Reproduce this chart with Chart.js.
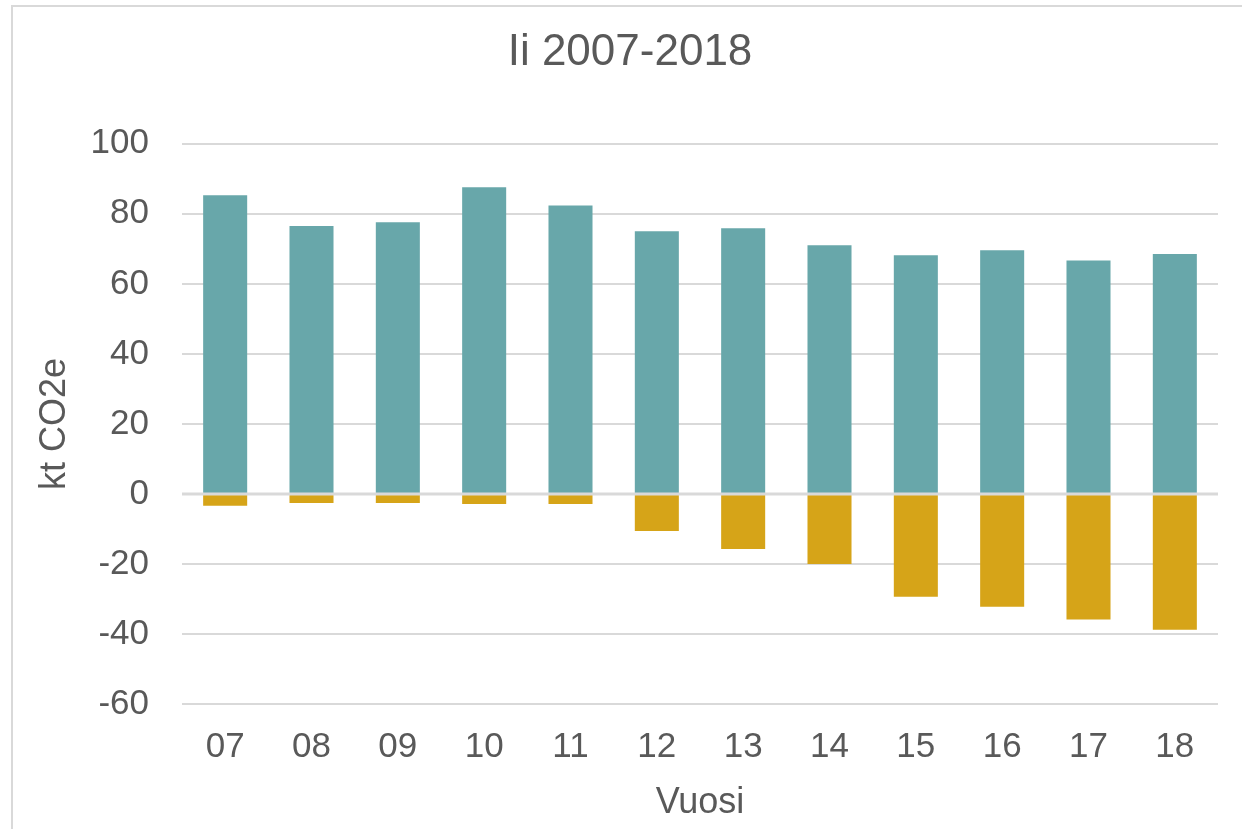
<!DOCTYPE html>
<html lang="fi">
<head>
  <meta charset="UTF-8">
  <title>Ii 2007-2018</title>
  <script src="https://cdn.jsdelivr.net/npm/chart.js"></script>
  <style>
    html, body {
      margin: 0;
      padding: 0;
      background: #fff;
      overflow: hidden;
    }

    .frame {
      position: absolute;
      left: 11px;
      top: 5px;
      width: 1300px;
      height: 900px;
      border-left: 2px solid #d9d9d9;
      border-top: 2px solid #d9d9d9;
    }

    .chart-box {
      position: absolute;
      left: 0;
      top: 0;
      width: 1242px;
      height: 829px;
    }
  </style>
</head>
<body>
<div class="frame"></div>
<div class="chart-box">
  <canvas id="emissionChart"></canvas>
</div>

<script>
  // Years (x axis labels)
  var years = ['07', '08', '09', '10', '11', '12', '13', '14', '15', '16', '17', '18'];

  // Emissions, kt CO2e (positive part)
  var emissions = [85.3, 76.5, 77.6, 87.6, 82.4, 75.0, 75.9, 71.0, 68.2, 69.6, 66.7, 68.5];

  // Sinks / negative part, kt CO2e
  var sinks = [-3.4, -2.6, -2.6, -2.9, -2.9, -10.6, -15.7, -20.0, -29.4, -32.2, -35.9, -38.8];

  // y axis range
  var yMin = -60;
  var yMax = 100;
  var yStep = 20;

  var textColor = '#595959';
  var gridColor = '#d9d9d9';
  var fontFamily = 'Liberation Sans, Arial, sans-serif';

  // draws the 0-line on top of the bars, like Excel does
  var zeroLinePlugin = {
    id: 'zeroLine',
    afterDatasetsDraw: function (chart) {
      var ctx = chart.ctx;
      var area = chart.chartArea;
      var y = chart.scales.y.getPixelForValue(0);
      ctx.save();
      ctx.strokeStyle = gridColor;
      ctx.lineWidth = 3;
      ctx.beginPath();
      ctx.moveTo(area.left, y);
      ctx.lineTo(area.right, y);
      ctx.stroke();
      ctx.restore();
    }
  };

  var ctx = document.getElementById('emissionChart').getContext('2d');
  var emissionChart = new Chart(ctx, {
    type: 'bar',
    data: {
      labels: years,
      datasets: [{
        label: 'Päästöt',
        data: emissions,
        backgroundColor: '#68a7aa',
        barPercentage: 0.51,
        categoryPercentage: 1.0
      }, {
        label: 'Nielut',
        data: sinks,
        backgroundColor: '#d6a418',
        barPercentage: 0.51,
        categoryPercentage: 1.0
      }]
    },
    options: {
      responsive: true,
      maintainAspectRatio: false,
      animation: false,
      layout: {
        // left padding shifts the title centre to match the original
        padding: { left: 42, right: 24, top: 0, bottom: 0 }
      },
      plugins: {
        legend: { display: false },
        tooltip: { enabled: false },
        title: {
          display: true,
          text: 'Ii 2007-2018',
          color: textColor,
          font: { family: fontFamily, size: 44, weight: 'normal' },
          padding: { top: 26, bottom: 65 }
        }
      },
      scales: {
        x: {
          stacked: true,
          grid: { display: false, drawTicks: false },
          border: { display: false },
          ticks: {
            color: textColor,
            font: { family: fontFamily, size: 35 },
            padding: 22
          },
          title: {
            display: true,
            text: 'Vuosi',
            color: textColor,
            font: { family: fontFamily, size: 36 },
            padding: { top: 0, bottom: 4 }
          },
          afterFit: function (scale) {
            scale.height = 125;
          }
        },
        y: {
          stacked: true,
          min: yMin,
          max: yMax,
          grid: {
            color: gridColor,
            lineWidth: 2,
            drawTicks: false
          },
          border: { display: false },
          ticks: {
            stepSize: yStep,
            color: textColor,
            font: { family: fontFamily, size: 35 },
            padding: 33
          },
          title: {
            display: true,
            text: 'kt CO2e',
            color: textColor,
            font: { family: fontFamily, size: 36 },
            padding: { top: -8.6, bottom: 0 }
          },
          afterFit: function (scale) {
            scale.width = 140;
          }
        }
      }
    },
    plugins: [zeroLinePlugin]
  });
</script>
</body>
</html>
